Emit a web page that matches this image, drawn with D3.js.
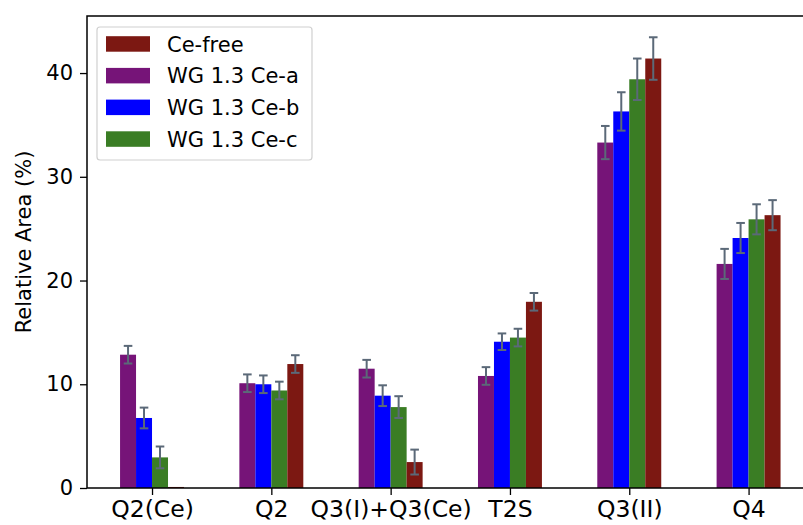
<!DOCTYPE html>
<html>
<head>
<meta charset="utf-8">
<script src="https://cdn.jsdelivr.net/npm/d3@7"></script>
<style>
  body { margin: 0; background: #fff; }
  svg { display: block; font-family: "DejaVu Sans", sans-serif; }
</style>
</head>
<body>
<script>
// data
const categories = ["Q2(Ce)", "Q2", "Q3(I)+Q3(Ce)", "T2S", "Q3(II)", "Q4"];
const seriesNames = ["WG 1.3 Ce-a", "WG 1.3 Ce-b", "WG 1.3 Ce-c", "Ce-free"];
const ceA    = [12.85, 10.1, 11.5, 10.8, 33.3, 21.6];
const ceB    = [6.75, 10.0, 8.9, 14.1, 36.3, 24.1];
const ceC    = [2.95, 9.4, 7.8, 14.5, 39.4, 25.9];
const ceFree = [0.1, 11.95, 2.5, 17.95, 41.4, 26.3];
const errA    = [0.85, 0.85, 0.85, 0.85, 1.6, 1.45];
const errB    = [1.0, 0.85, 1.0, 0.8, 1.85, 1.45];
const errC    = [1.05, 0.85, 1.05, 0.85, 2.0, 1.45];
const errFree = [0, 0.85, 1.2, 0.85, 2.05, 1.45];
const yTicks = [0, 10, 20, 30, 40];

const colors = ["#761478", "#0000ff", "#3a7d24", "#7c1812"];
const legendOrder = [3, 0, 1, 2];
const fontSize = "21px";
const xFontSize = "23.5px";

const W = 803, H = 525;
const margin = {left: 87, top: 16};
const x = d3.scaleLinear().domain([-0.545, 5.545]).range([87, 813.6]);
const y = d3.scaleLinear().domain([0, 45.5]).range([488, 16]);
const barW = 0.134;

const values = [ceA, ceB, ceC, ceFree];
const errs = [errA, errB, errC, errFree];

const svg = d3.select("body").append("svg")
    .attr("width", W)
    .attr("height", H);

// bars
values.forEach(function(vals, s) {
    const off = (s - 1.5) * barW;
    svg.append("g").selectAll("rect")
        .data(vals)
        .enter().append("rect")
        .attr("x", (d, i) => x(i + off - barW / 2))
        .attr("width", x(barW) - x(0))
        .attr("y", d => y(d))
        .attr("height", d => y(0) - y(d))
        .attr("fill", colors[s]);
});

// error bars
const errColor = "#5b6978";
values.forEach(function(vals, s) {
    const off = (s - 1.5) * barW;
    const g = svg.append("g")
        .attr("stroke", errColor)
        .attr("stroke-width", 2);
    vals.forEach(function(v, i) {
        const e = errs[s][i];
        if (e <= 0) return;
        const cx = x(i + off);
        g.append("line").attr("x1", cx).attr("x2", cx)
            .attr("y1", y(v - e)).attr("y2", y(v + e));
        [v - e, v + e].forEach(function(t) {
            g.append("line").attr("x1", cx - 4.3).attr("x2", cx + 4.3)
                .attr("y1", y(t)).attr("y2", y(t));
        });
    });
});

// axes
const xAxis = d3.axisBottom(x)
    .tickValues(d3.range(categories.length))
    .tickFormat(i => categories[i])
    .tickSize(7)
    .tickPadding(5);
const yAxis = d3.axisLeft(y)
    .tickValues(yTicks)
    .tickSize(7)
    .tickPadding(7);

svg.append("g")
    .attr("transform", "translate(0," + y(0) + ")")
    .call(xAxis)
    .attr("font-size", null)
    .attr("font-family", null)
    .call(g => g.select(".domain").remove())
    .call(g => g.selectAll(".tick line").attr("stroke", "#000").attr("stroke-width", 1.3))
    .call(g => g.selectAll(".tick text").style("font-size", xFontSize).attr("fill", "#000").attr("dy", "0.74em"));
svg.append("g")
    .attr("transform", "translate(" + margin.left + ",0)")
    .call(yAxis)
    .attr("font-size", null)
    .attr("font-family", null)
    .call(g => g.select(".domain").remove())
    .call(g => g.selectAll(".tick line").attr("stroke", "#000").attr("stroke-width", 1.3))
    .call(g => g.selectAll(".tick text").style("font-size", fontSize).attr("fill", "#000"));

// spines
svg.append("rect")
    .attr("x", x.range()[0])
    .attr("y", y.range()[1])
    .attr("width", x.range()[1] - x.range()[0])
    .attr("height", y.range()[0] - y.range()[1])
    .attr("fill", "none")
    .attr("stroke", "#000")
    .attr("stroke-width", 1.5);

svg.append("text")
    .attr("transform", "translate(31,242) rotate(-90)")
    .style("text-anchor", "middle")
    .style("font-size", fontSize)
    .text("Relative Area (%)");

// legend
const legend = svg.append("g");
legend.append("rect")
    .attr("x", 97).attr("y", 27)
    .attr("width", 215).attr("height", 133)
    .attr("rx", 3)
    .attr("fill", "#fff")
    .attr("fill-opacity", 0.8)
    .attr("stroke", "#d0d0d0")
    .attr("stroke-width", 1.2);
legendOrder.forEach(function(s, k) {
    const cy = 44 + k * 31.7;
    legend.append("rect")
        .attr("x", 106).attr("y", cy - 7.8)
        .attr("width", 44).attr("height", 15.5)
        .attr("fill", colors[s]);
    legend.append("text")
        .attr("x", 167).attr("y", cy)
        .attr("dy", "0.36em")
        .style("font-size", fontSize)
        .text(seriesNames[s]);
});
</script>
</body>
</html>
